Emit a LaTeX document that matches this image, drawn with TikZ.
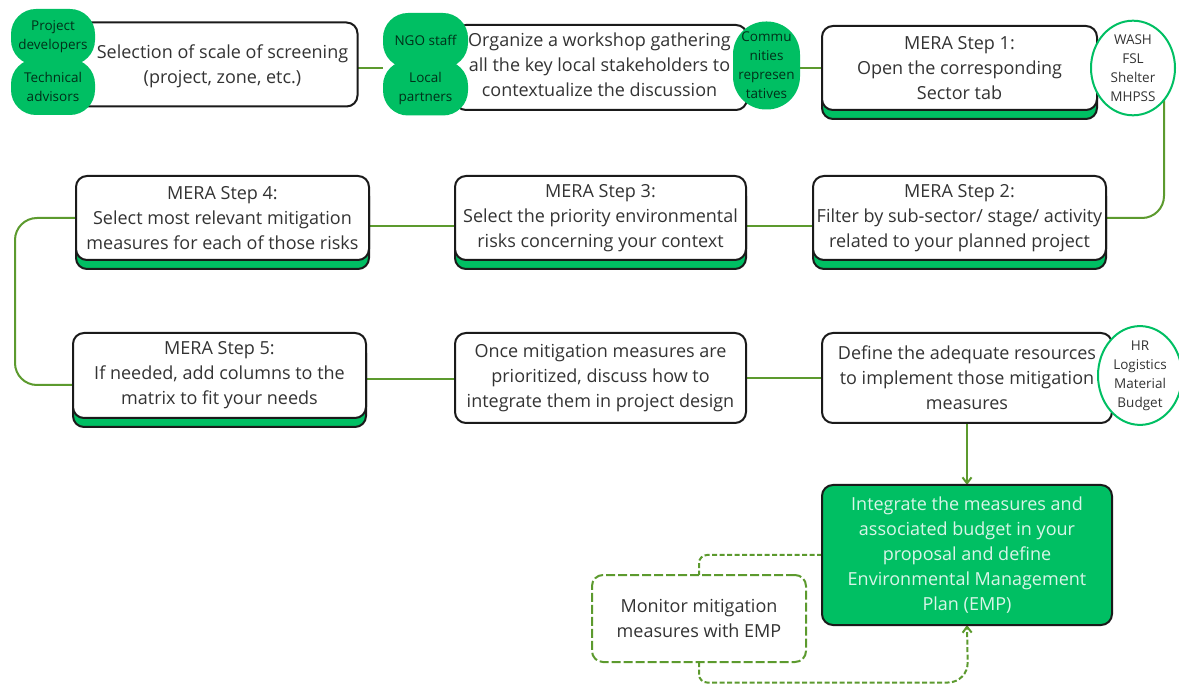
\documentclass[tikz,border=0pt]{standalone}
\usepackage{fontspec}
\setmainfont{Open Sans}
\usetikzlibrary{shadows,backgrounds,arrows.meta,shapes.geometric}
\definecolor{brandgreen}{HTML}{00BF63}
\definecolor{linkgreen}{HTML}{5C9A2E}
\definecolor{inkgrey}{HTML}{333333}
\definecolor{edgeblack}{HTML}{1A1A1A}
\tikzset{
  x=1pt,y=-1pt,
  box/.style={draw=edgeblack,line width=2pt,fill=white,rounded corners=11pt,align=center,
    text=inkgrey,inner sep=0pt,outer sep=0pt,font=\fontsize{18}{25}\selectfont},
  stepbox/.style={box,general shadow={fill=brandgreen,draw=edgeblack,line width=2pt,shadow yshift=-9pt}},
  blob/.style={fill=brandgreen,rounded corners=25pt,align=center,text=black!75!brandgreen,inner sep=0pt,
    outer sep=0pt,font=\fontsize{13.5}{19}\selectfont},
  ring/.style={ellipse,draw=brandgreen,line width=2pt,fill=white,align=center,text=inkgrey,inner sep=0pt,
    outer sep=0pt,font=\fontsize{13.5}{19}\selectfont},
  dashbox/.style={draw=linkgreen,line width=2pt,dash pattern=on 9pt off 3pt,fill=white,rounded corners=11pt,
    align=center,text=inkgrey,inner sep=0pt,outer sep=0pt,font=\fontsize{18}{25}\selectfont},
  bare/.style={text=inkgrey,align=center,font=\fontsize{18}{25}\selectfont},
  link/.style={draw=linkgreen,line width=2pt,rounded corners=22pt},
  dashlink/.style={link,dash pattern=on 5pt off 2.5pt,rounded corners=8pt},
  tip/.style={-{Straight Barb[length=6pt,width=9pt]}},
}
\begin{document}
\begin{tikzpicture}
\useasboundingbox (0,0) rectangle (1179,684);
\clip (0,0) rectangle (1179,684);
% row 1
\node[box,minimum width=287pt,minimum height=84pt] (sel) at (214,64.5) {};
\node[blob,minimum width=84pt,minimum height=56pt] (dev) at (53,37) {Project\\developers};
\node[blob,minimum width=84pt,minimum height=56pt] (adv) at (53,87) {Technical\\advisors};
\node[bare] (seltext) at (222.5,66.5) {Selection of scale of screening\\(project, zone, etc.)};
\node[box,minimum width=292pt,minimum height=85pt] (org) at (601,67.5) {};
\node[blob,minimum width=85pt,minimum height=55pt] (ngo) at (425.5,40.5) {NGO staff};
\node[blob,minimum width=85pt,minimum height=55pt] (loc) at (425.5,88) {Local\\partners};
\node[bare] (orgtext) at (599.5,64.5) {Organize a workshop gathering\\all the key local stakeholders to\\contextualize the discussion};
\node[blob,rounded corners=33pt,minimum width=67pt,minimum height=88pt] (com) at (766.5,65.5) {Commu\\nities\\represen\\tatives};
\node[stepbox,minimum width=275pt,minimum height=84pt] (s1) at (959.5,68) {MERA Step 1:\\Open the corresponding\\Sector tab};
\node[ring,minimum width=84pt,minimum height=91pt] (sectors) at (1133,68) {WASH\\FSL\\Shelter\\MHPSS};
% row 2
\node[stepbox,minimum width=293pt,minimum height=84pt] (s2) at (959.5,218) {MERA Step 2:\\Filter by sub-sector/ stage/ activity\\related to your planned project};
\node[stepbox,minimum width=291pt,minimum height=84pt] (s3) at (600.5,218) {MERA Step 3:\\Select the priority environmental\\risks concerning your context};
\node[stepbox,minimum width=293pt,minimum height=84pt] (s4) at (222.5,218) {MERA Step 4:\\Select most relevant mitigation\\measures for each of those risks};
% row 3
\node[stepbox,minimum width=293pt,minimum height=85pt] (s5) at (219.5,375.5) {MERA Step 5:\\If needed, add columns to the\\matrix to fit your needs};
\node[box,minimum width=291pt,minimum height=90pt] (once) at (600.5,378) {Once mitigation measures are\\prioritized, discuss how to\\integrate them in project design};
\node[box,minimum width=290pt,minimum height=90pt] (def) at (967,378) {Define the adequate resources\\to implement those mitigation\\measures};
\node[ring,minimum width=84pt,minimum height=91pt] (res) at (1140,375.5) {HR\\Logistics\\Material\\Budget};
% bottom
\node[box,fill=brandgreen,text=white!85!brandgreen,minimum width=290pt,minimum height=140pt] (emp) at (967,555) {Integrate the measures and\\associated budget in your\\proposal and define\\Environmental Management\\Plan (EMP)};
\node[dashbox,minimum width=214pt,minimum height=87pt] (mon) at (699,618.5) {Monitor mitigation\\measures with EMP};
\coordinate (lowrun) at (968,682.5);
\begin{scope}[on background layer]
  \draw[link] (sel.east |- 0,68) -- (loc.west |- 0,68);
  \draw[link] (com.east |- 0,68) -- (s1.west |- 0,68);
  \draw[link] (1164,100) -- (1164,218) -- (s2.east |- 0,218);
  \draw[link] (s2.west |- 0,226) -- (s3.east |- 0,226);
  \draw[link] (s3.west |- 0,226) -- (s4.east |- 0,226);
  \draw[link] (s4.west |- 0,218) -- (15,218) -- (15,385) -- (s5.west |- 0,385);
  \draw[link] (s5.east |- 0,379) -- (once.west |- 0,379);
  \draw[link] (once.east |- 0,378) -- (def.west |- 0,378);
  \draw[link,tip] (def.south) -- (emp.north);
  \draw[dashlink] (emp.west |- 0,555) -- (mon.north |- 0,555) -- (mon.north);
  \draw[dashlink,tip] (mon.south) -- (mon.south |- lowrun) [rounded corners=20pt] -- (lowrun) -- (emp.south);
\end{scope}
\end{tikzpicture}
\end{document}
